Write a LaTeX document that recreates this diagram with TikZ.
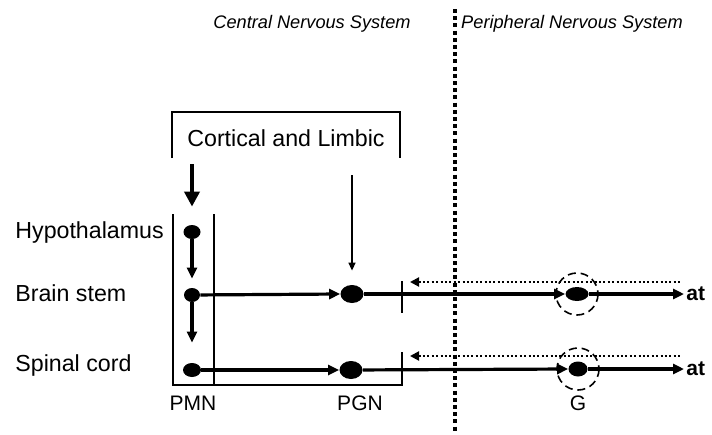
\documentclass[tikz,border=0pt]{standalone}
\usepackage{fontspec}
\setmainfont{Liberation Sans}
\usetikzlibrary{arrows.meta,shapes.geometric}

\tikzset{
  neuron/.style={ellipse, fill=black, inner sep=0pt, minimum width=#1, minimum height=7pt},
  neuron/.default=8pt,
  axon/.style={line width=1.6pt, -{Triangle[length=5.5pt,width=5pt]}},
  descend/.style={line width=1.6pt, -{Triangle[length=5.5pt,width=5pt]}},
  feedback/.style={line width=1pt, dash pattern=on 1pt off 1.2pt, {Triangle[length=4.5pt,width=4.5pt]}-},
  ganglion/.style={line width=0.8pt, dash pattern=on 4pt off 2.4pt},
  frame/.style={line width=1pt},
  rowlabel/.style={anchor=west, inner sep=0pt, font=\fontsize{11.6}{14}\selectfont},
  collabel/.style={inner sep=0pt, font=\fontsize{10.5}{13}\selectfont},
  syslabel/.style={inner sep=0pt, font=\fontsize{9.1}{11}\selectfont\itshape},
  target/.style={anchor=west, inner sep=1pt, font=\fontsize{10.5}{13}\selectfont\bfseries}
}

\begin{document}
\begin{tikzpicture}[x=0.5pt,y=-0.5pt]
		%%%%% START %%%%%
		\useasboundingbox (0,0) rectangle (712,434);
		
		% system headings and divider
		\node[syslabel] (cns) at (312,24) {Central Nervous System};
		\node[syslabel] (pns) at (572,24) {Peripheral Nervous System};
		\coordinate (divtop) at (455,9);
		\coordinate (divbot) at (455,431);
		\draw[line width=2pt, dash pattern=on 2pt off 1.6pt] (divtop) -- (divbot);
		
		% cortical and limbic input
		\draw[frame] (172,158) -- (172,112) -- (400,112) -- (400,158);
		\node[font=\fontsize{11.6}{14}\selectfont] (cortex) at (286,138) {Cortical and Limbic};
		\coordinate (cortexA) at (192,164);
		\coordinate (cortexB) at (352,175);
		
		% row labels
		\node[rowlabel] (hyplab) at (15,232) {Hypothalamus};
		\node[rowlabel] (bslab) at (15,293) {Brain stem};
		\node[rowlabel] (sclab) at (15,365) {Spinal cord};
		
		% PMN column and PGN brackets
		\draw[frame] (173,214) -- (173,385) -- (402,385) -- (402,352);
		\draw[frame] (214,214) -- (214,385);
		\draw[frame] (402,281) -- (402,313);
		
		% column labels
		\node[collabel] (pmn) at (193,403) {PMN};
		\node[collabel] (pgn) at (360,403) {PGN};
		\node[collabel] (gl) at (578,403) {G};
		
		% neurons
		\node[neuron=8.5pt] (hyp) at (192,232) {};
		\node[neuron=8pt] (bs) at (192,295) {};
		\node[neuron=9pt] (sc) at (192,370) {};
		\node[neuron=11.5pt, minimum height=9pt] (pgnA) at (352,294) {};
		\node[neuron=11.5pt, minimum height=9pt] (pgnB) at (351,370) {};
		\node[neuron=11.5pt, minimum height=7pt] (gA) at (577,294) {};
		\node[neuron=9.5pt, minimum height=7.5pt] (gB) at (578,369) {};
		\draw[ganglion] (gA) circle (21);
		\draw[ganglion] (gB) circle (21);
		
		% effector targets
		\node[target] (atA) at (684,294) {at};
		\node[target] (atB) at (684,369) {at};
		
		% descending pathways
		\draw[line width=2.4pt, -{Triangle[length=7.5pt,width=7.5pt]}, shorten >=9pt] (cortexA) -- (hyp.north);
		\draw[line width=0.7pt, -{Triangle[length=4pt,width=3.5pt]}, shorten >=7pt] (cortexB) -- (pgnA.north);
		\draw[descend, shorten >=4.5pt] (hyp) -- (bs.north);
		\draw[descend, shorten >=10pt] (bs) -- (sc.north);
		
		% preganglionic and postganglionic fibres
		\draw[axon] (bs) -- (pgnA.west);
		\draw[axon] (sc) -- (pgnB.west);
		\draw[axon] (pgnA) -- (gA.west);
		\draw[axon] (pgnB) -- (gB.west);
		\draw[axon] (gA) -- (atA.west);
		\draw[axon] (gB) -- (atB.west);
		
		% afferent return
		\coordinate (retAs) at (680,282);
		\coordinate (retAe) at (410,282);
		\coordinate (retBs) at (680,356);
		\coordinate (retBe) at (410,356);
		\draw[feedback] (retAe) -- (retAs);
		\draw[feedback] (retBe) -- (retBs);
		
		%%%%% END %%%%%
	\end{tikzpicture}
\end{document}
